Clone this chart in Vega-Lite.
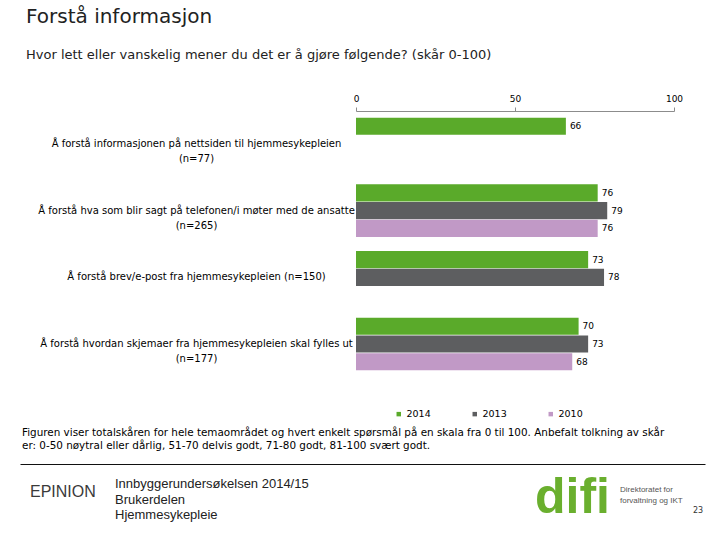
{
  "$schema": "https://vega.github.io/schema/vega-lite/v6.json",
  "padding": {"left": 20, "top": 7, "right": 5, "bottom": 5},
  "background": "white",
  "config": {
    "font": "DejaVu Sans",
    "view": {"stroke": null},
    "concat": {"spacing": 10},
    "title": {"fontWeight": "normal", "color": "#222", "anchor": "start"}
  },
  "title": {
    "text": "Forstå informasjon",
    "subtitle": "Hvor lett eller vanskelig mener du det er å gjøre følgende? (skår 0-100)",
    "fontSize": 20,
    "subtitleFontSize": 13,
    "subtitlePadding": 22,
    "subtitleColor": "#222",
    "color": "#222",
    "anchor": "start",
    "dx": 6,
    "offset": 32
  },
  "spacing": 8,
  "vconcat": [
    {
      "spacing": 10,
      "resolve": {"scale": {"color": "independent"}, "legend": {"color": "independent"}},
      "hconcat": [
        {"width": 7, "height": 1, "data": {"values": []}, "mark": "text"},
        {
          "width": 318,
          "height": 266,
          "data": {
            "values": [
              {"question": "Å forstå informasjonen på nettsiden til hjemmesykepleien (n=77)", "year": "2014", "score": 66},
              {"question": "Å forstå hva som blir sagt på telefonen/i møter med de ansatte (n=265)", "year": "2014", "score": 76},
              {"question": "Å forstå hva som blir sagt på telefonen/i møter med de ansatte (n=265)", "year": "2013", "score": 79},
              {"question": "Å forstå hva som blir sagt på telefonen/i møter med de ansatte (n=265)", "year": "2010", "score": 76},
              {"question": "Å forstå brev/e-post fra hjemmesykepleien (n=150)", "year": "2014", "score": 73},
              {"question": "Å forstå brev/e-post fra hjemmesykepleien (n=150)", "year": "2013", "score": 78},
              {"question": "Å forstå hvordan skjemaer fra hjemmesykepleien skal fylles ut (n=177)", "year": "2014", "score": 70},
              {"question": "Å forstå hvordan skjemaer fra hjemmesykepleien skal fylles ut (n=177)", "year": "2013", "score": 73},
              {"question": "Å forstå hvordan skjemaer fra hjemmesykepleien skal fylles ut (n=177)", "year": "2010", "score": 68}
            ]
          },
          "encoding": {
            "y": {
              "field": "question",
              "type": "nominal",
              "sort": null,
              "scale": {"paddingInner": 0.21, "paddingOuter": 0.1},
              "axis": {
                "title": null,
                "domain": false,
                "ticks": false,
                "labelPadding": 160,
                "labelFontSize": 10,
                "labelColor": "#000",
                "labelLimit": 0,
                "labelAlign": "center",
                "labelLineHeight": 15,
                "labelExpr": "indexof(datum.label, 'brev') >= 0 ? datum.label : [substring(datum.label, 0, indexof(datum.label, ' (n=')), substring(datum.label, indexof(datum.label, ' (n=') + 1)]"
              }
            },
            "yOffset": {
              "field": "year",
              "type": "nominal",
              "sort": ["2014", "2013", "2010"],
              "scale": {"domain": ["2014", "2013", "2010"], "paddingInner": 0.03}
            },
            "x": {
              "field": "score",
              "type": "quantitative",
              "scale": {"domain": [0, 100]},
              "axis": {
                "orient": "top",
                "values": [0, 50, 100],
                "title": null,
                "grid": false,
                "domainColor": "#8c8c8c",
                "tickColor": "#8c8c8c",
                "tickSize": 4,
                "labelPadding": 4,
                "labelFontSize": 9,
                "labelColor": "#000",
                "labelFlush": false
              }
            }
          },
          "layer": [
            {
              "mark": {"type": "bar"},
              "encoding": {
                "color": {
                  "field": "year",
                  "type": "nominal",
                  "sort": ["2014", "2013", "2010"],
                  "scale": {"domain": ["2014", "2013", "2010"], "range": ["#5aaa2a", "#5d5e60", "#c199c6"]},
                  "legend": {
                    "title": null,
                    "orient": "none",
                    "legendX": 38,
                    "legendY": 298,
                    "direction": "horizontal",
                    "symbolType": "square",
                    "symbolSize": 20,
                    "labelFontSize": 9.5,
                    "labelColor": "#000",
                    "columnPadding": 39,
                    "labelOffset": 3
                  }
                }
              }
            },
            {
              "mark": {"type": "text", "align": "left", "baseline": "middle", "dx": 4, "fontSize": 9, "color": "#000"},
              "encoding": {"text": {"field": "score", "type": "quantitative"}}
            }
          ]
        }
      ]
    },
    {
      "width": 685,
      "height": 1,
      "data": {"values": [{"line": 0}]},
      "mark": {"type": "point", "size": 0, "opacity": 0, "strokeWidth": 0},
      "encoding": {
        "x": {
          "field": "line",
          "type": "quantitative",
          "scale": {"domain": [0, 1]},
          "axis": {"orient": "top", "domain": true, "domainColor": "#111", "domainWidth": 1, "ticks": false, "labels": false, "grid": false, "title": null}
        }
      },
      "title": {
        "text": [
          "Figuren viser totalskåren for hele temaområdet og hvert enkelt spørsmål på en skala fra 0 til 100. Anbefalt tolkning av skår",
          "er: 0-50 nøytral eller dårlig, 51-70 delvis godt, 71-80 godt, 81-100 svært godt."
        ],
        "fontSize": 10.4,
        "lineHeight": 13,
        "color": "#000",
        "offset": 13,
        "dx": 2
      }
    },
    {
      "spacing": 10,
      "hconcat": [
        {
          "width": 85, "height": 1, "data": {"values": []}, "mark": "text",
          "title": {"text": "EPINION", "orient": "bottom", "font": "Liberation Sans", "fontSize": 16, "color": "#3a3a3a", "dx": 10, "offset": 6}
        },
        {
          "width": 410, "height": 1, "data": {"values": []}, "mark": "text",
          "title": {"text": ["Innbyggerundersøkelsen 2014/15", "Brukerdelen", "Hjemmesykepleie"], "orient": "bottom", "font": "Liberation Sans", "fontSize": 13, "lineHeight": 15.5, "color": "#222", "offset": 0}
        },
        {
          "width": 70, "height": 1, "data": {"values": []}, "mark": "text",
          "title": {"text": "difi", "orient": "bottom", "font": "Liberation Sans Narrow, Liberation Sans", "fontWeight": "bold", "fontSize": 50, "color": "#6aaf2e", "offset": -5}
        },
        {
          "width": 60, "height": 1, "data": {"values": []}, "mark": "text",
          "title": {"text": ["Direktoratet for", "forvaltning og IKT"], "orient": "bottom", "font": "Liberation Sans", "fontSize": 8, "lineHeight": 11, "color": "#555", "offset": 8}
        },
        {
          "width": 15, "height": 1, "data": {"values": []}, "mark": "text",
          "title": {"text": "23", "orient": "bottom", "fontSize": 8, "color": "#333", "offset": 29}
        }
      ]
    }
  ]
}
